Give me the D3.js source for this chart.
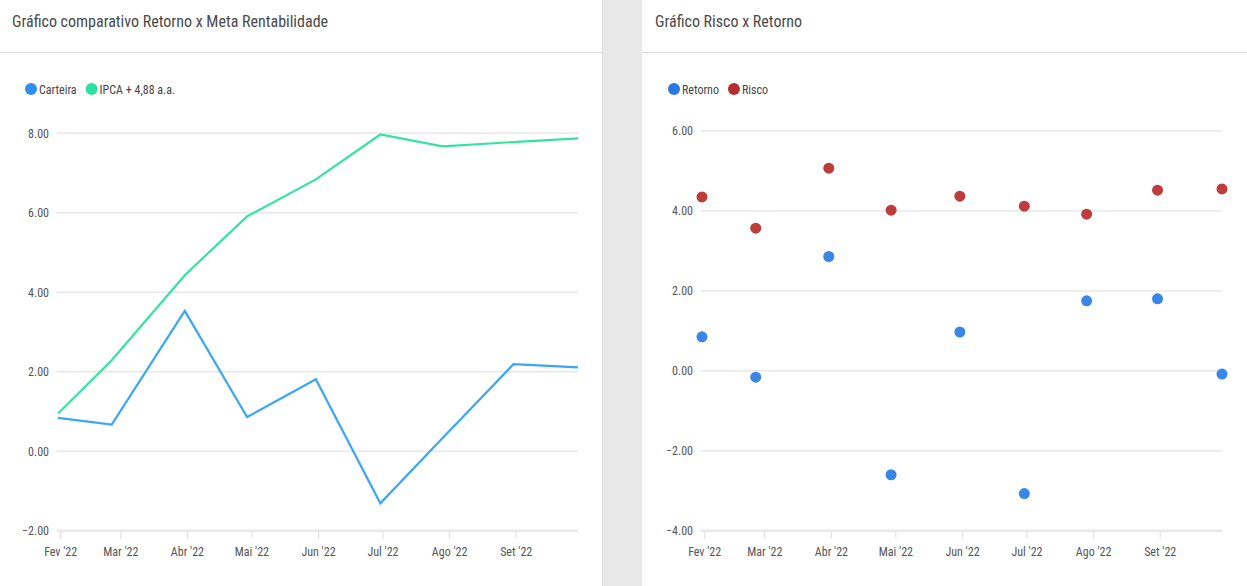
<!DOCTYPE html>
<html>
<head>
<meta charset="utf-8">
<script src="https://cdn.jsdelivr.net/npm/d3@7"></script>
<style>
  body { margin: 0; background: #ffffff; }
  svg text { font-family: "Liberation Sans Narrow", "Arial Narrow", "Roboto Condensed", "Liberation Sans", sans-serif; }
</style>
</head>
<body>
<svg id="svg1" width="1247" height="586"></svg>
<script>
// chart data
const dates = ["2022-01-31", "2022-02-25", "2022-03-31", "2022-04-29", "2022-05-31", "2022-06-30", "2022-07-29", "2022-08-31", "2022-09-30"];
const tickDates = ["2022-02-01", "2022-03-01", "2022-04-01", "2022-05-01", "2022-06-01", "2022-07-01", "2022-08-01", "2022-09-01"];
const tickLabels = ["Fev '22", "Mar '22", "Abr '22", "Mai '22", "Jun '22", "Jul '22", "Ago '22", "Set '22"];

const carteira = [0.84, 0.67, 3.53, 0.86, 1.81, -1.31, 0.33, 2.19, 2.11];
const ipca = [0.95, 2.29, 4.43, 5.91, 6.84, 7.97, 7.67, 7.78, 7.87];

const retorno = [0.85, -0.16, 2.86, -2.60, 0.97, -3.07, 1.75, 1.80, -0.08];
const risco = [4.35, 3.57, 5.07, 4.02, 4.37, 4.12, 3.92, 4.52, 4.55];

const leftTicks = [-2, 0, 2, 4, 6, 8];
const rightTicks = [-4, -2, 0, 2, 4, 6];

const parse = d3.timeParse("%Y-%m-%d");
const dateObjs = dates.map(parse);
const tickObjs = tickDates.map(parse);

const textColor = "#555555";
const gridColor = "#e8e8e8";

const svg = d3.select("#svg1");

// panel divider
svg.append("rect").attr("x", 602).attr("y", 0).attr("width", 40).attr("height", 586).attr("fill", "#e9e9e9");
svg.append("line").attr("x1", 602.5).attr("x2", 602.5).attr("y1", 0).attr("y2", 586).attr("stroke", "#dcdcdc");

function panel(opts) {
    const g = svg.append("g");

    g.append("text")
        .attr("x", opts.titleX).attr("y", 27)
        .attr("font-size", "16px").attr("fill", "#4a4a4a")
        .text(opts.title);

    g.append("line")
        .attr("x1", opts.x0).attr("x2", opts.x1)
        .attr("y1", 52.5).attr("y2", 52.5)
        .attr("stroke", "#dddddd");

    const xScale = d3.scaleTime()
        .domain([dateObjs[0], dateObjs[dateObjs.length - 1]])
        .range(opts.xRange);
    const yScale = d3.scaleLinear()
        .domain(opts.yDomain)
        .range(opts.yRange);

    // grid
    g.selectAll(".grid")
        .data(opts.yTicks)
        .enter()
        .append("line")
        .attr("x1", opts.xRange[0] - 1).attr("x2", opts.xRange[1])
        .attr("y1", d => yScale(d)).attr("y2", d => yScale(d))
        .attr("stroke", gridColor)
        .attr("stroke-width", (d, i) => i === 0 ? 2.5 : 1.5);

    const leftAxis = d3.axisLeft(yScale)
        .tickValues(opts.yTicks)
        .tickFormat(d3.format(".2f"))
        .tickSize(0)
        .tickPadding(8);
    const yAxis = g.append("g")
        .attr("transform", "translate(" + (opts.xRange[0] - 1) + ",0)")
        .call(leftAxis);
    yAxis.select(".domain").remove();
    yAxis.selectAll("text").attr("fill", textColor).attr("font-size", "12px").attr("font-family", null);

    const bottomAxis = d3.axisBottom(xScale)
        .tickValues(tickObjs)
        .tickFormat((d, i) => tickLabels[i])
        .tickSize(7)
        .tickPadding(9);
    const xAxis = g.append("g")
        .attr("transform", "translate(0," + (opts.yRange[0] + 1) + ")")
        .call(bottomAxis);
    xAxis.select(".domain").remove();
    xAxis.selectAll("line").attr("stroke", "#dddddd");
    xAxis.selectAll("text").attr("fill", textColor).attr("font-size", "12px").attr("font-family", null);

    // legend
    let lx = opts.legendX;
    opts.series.forEach(s => {
        g.append("circle").attr("cx", lx).attr("cy", 89).attr("r", 6).attr("fill", s.legendColor);
        const t = g.append("text")
            .attr("x", lx + 8).attr("y", 93.5)
            .attr("font-size", "12px").attr("fill", "#444444")
            .text(s.name);
        lx += 8 + t.node().getComputedTextLength() + 15;
    });

    return { g, xScale, yScale };
}

// left chart: lines
const left = panel({
    title: "Gráfico comparativo Retorno x Meta Rentabilidade",
    titleX: 12, x0: 0, x1: 602,
    xRange: [58, 578], yDomain: [-2, 8], yRange: [530.7, 133.3], yTicks: leftTicks,
    legendX: 31,
    series: [
        { name: "Carteira", legendColor: "#2f8ff0" },
        { name: "IPCA + 4,88 a.a.", legendColor: "#2ee0a0" }
    ]
});

const lineGen = vals => d3.line()
    .x((d, i) => left.xScale(dateObjs[i]))
    .y(d => left.yScale(d))(vals);

left.g.append("path").attr("d", lineGen(ipca))
    .attr("fill", "none").attr("stroke", "#34e3a2").attr("stroke-width", 2.2);
left.g.append("path").attr("d", lineGen(carteira))
    .attr("fill", "none").attr("stroke", "#39a6f7").attr("stroke-width", 2.2);

// right chart: scatter
const right = panel({
    title: "Gráfico Risco x Retorno",
    titleX: 655, x0: 642, x1: 1247,
    xRange: [702, 1222], yDomain: [-4, 6], yRange: [530.7, 131], yTicks: rightTicks,
    legendX: 674,
    series: [
        { name: "Retorno", legendColor: "#2a78e6" },
        { name: "Risco", legendColor: "#b32e2e" }
    ]
});

right.g.selectAll(".risco")
    .data(risco)
    .enter()
    .append("circle")
    .attr("cx", (d, i) => right.xScale(dateObjs[i]))
    .attr("cy", d => right.yScale(d))
    .attr("r", 5.5)
    .attr("fill", "#bd3c3c");

right.g.selectAll(".retorno")
    .data(retorno)
    .enter()
    .append("circle")
    .attr("cx", (d, i) => right.xScale(dateObjs[i]))
    .attr("cy", d => right.yScale(d))
    .attr("r", 5.5)
    .attr("fill", "#3a86e8");
</script>
</body>
</html>
